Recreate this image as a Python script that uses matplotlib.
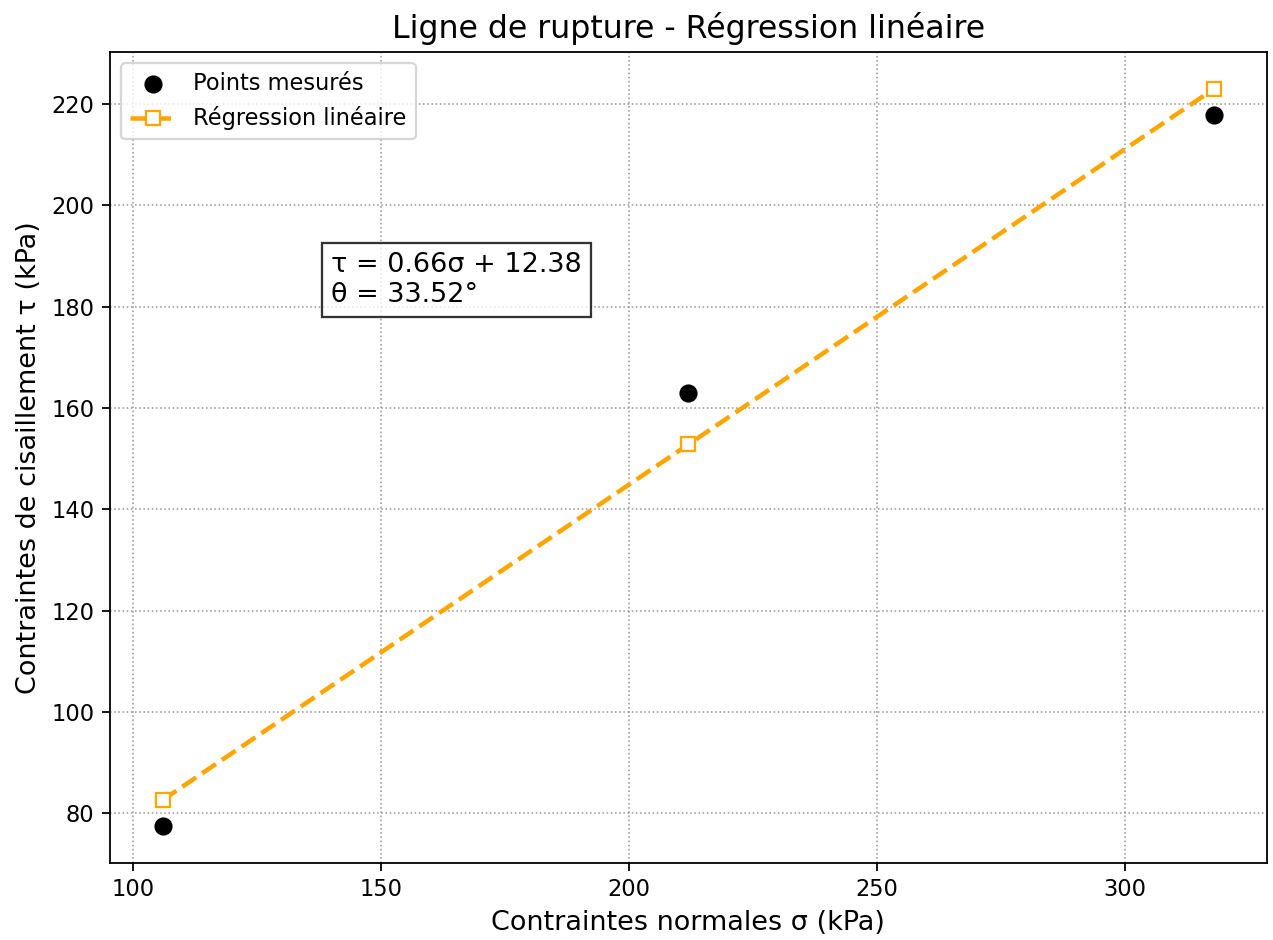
import numpy as np
from matplotlib import pyplot as plt

# Contraintes normales (kPa) et contraintes de cisaillement mesurees (kPa)
sigma = [106, 212, 318]
tau = [77.5, 162.98, 217.92]

DPI = 162


def main() -> None:
    x = np.array(sigma, dtype=float)
    y = np.array(tau, dtype=float)

    # Regression lineaire tau = a*sigma + b
    a, b = np.polyfit(x, y, 1)
    theta = np.degrees(np.arctan(a))
    y_fit = a * x + b

    fig, ax = plt.subplots(figsize=(1273 / DPI, 940 / DPI), dpi=DPI)
    ax.scatter(x, y, color="black", s=50, zorder=3, label="Points mesurés")
    ax.plot(x, y_fit, color="orange", linestyle="--", linewidth=2,
            marker="s", markersize=6.5, markerfacecolor="white",
            markeredgecolor="orange", label="Régression linéaire", zorder=2)

    ax.text(140, 185.2, f"τ = {a:.2f}σ + {b:.2f}\nθ = {theta:.2f}°",
            fontsize=12, ha="left", va="center",
            bbox=dict(facecolor="white", edgecolor="black", alpha=0.8))

    ax.set_title("Ligne de rupture - Régression linéaire", fontsize=14)
    ax.set_xlabel("Contraintes normales σ (kPa)", fontsize=12)
    ax.set_ylabel("Contraintes de cisaillement τ (kPa)", fontsize=12)
    ax.grid(True, linestyle=":", color="gray", linewidth=0.7, alpha=0.8)
    ax.legend(loc="upper left")

    fig.subplots_adjust(left=0.0864, right=0.995, top=0.9447, bottom=0.0822)
    fig.savefig("out.png", dpi=DPI)


if __name__ == "__main__":
    main()
